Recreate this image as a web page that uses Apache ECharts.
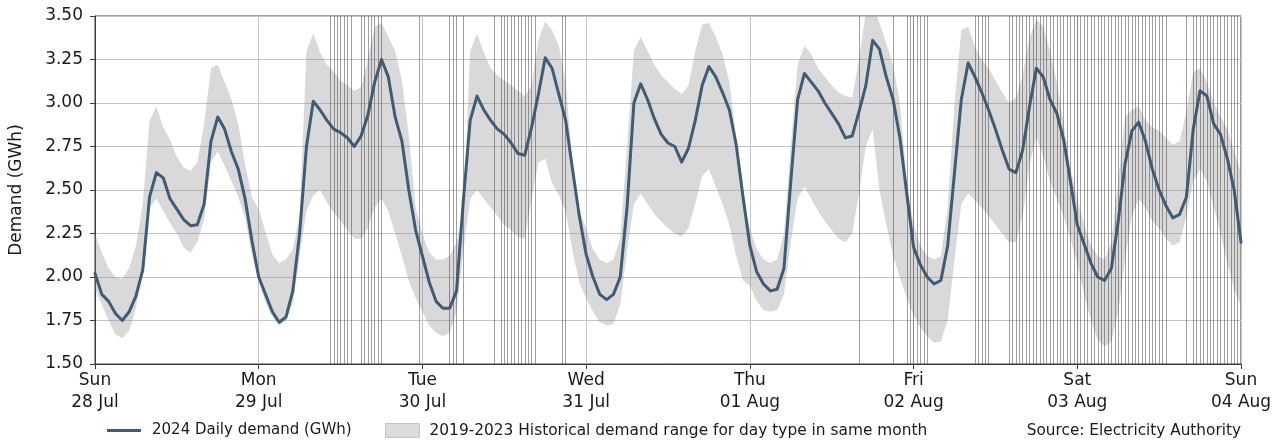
<!DOCTYPE html>
<html>
<head>
<meta charset="utf-8">
<script src="https://cdn.jsdelivr.net/npm/echarts@6/dist/echarts.min.js"></script>
<style>
  html, body { margin: 0; padding: 0; background: #ffffff; }
  #chart { width: 1288px; height: 441px; }
</style>
</head>
<body>
<div id="chart"></div>
<script>
// Week shown: Sun 28 Jul 00:00 to Sun 04 Aug 00:00, hourly readings (hour 0..168)
const dayNames = ['Sun', 'Mon', 'Tue', 'Wed', 'Thu', 'Fri', 'Sat', 'Sun'];
const dayDates = ['28 Jul', '29 Jul', '30 Jul', '31 Jul', '01 Aug', '02 Aug', '03 Aug', '04 Aug'];

// 2024 demand (GWh), one value per hour
const demand2024 = [
  2.02, 1.90, 1.86, 1.79, 1.75, 1.80, 1.89, 2.04, 2.46, 2.60, 2.57, 2.45, 2.39, 2.33, 2.295, 2.30, 2.42, 2.78, 2.92, 2.85, 2.72, 2.62, 2.45, 2.21,
  2.00, 1.90, 1.80, 1.74, 1.77, 1.92, 2.25, 2.75, 3.01, 2.96, 2.90, 2.85, 2.83, 2.80, 2.75, 2.81, 2.93, 3.12, 3.25, 3.15, 2.92, 2.78, 2.50, 2.27,
  2.12, 1.97, 1.86, 1.82, 1.82, 1.92, 2.44, 2.90, 3.04, 2.96, 2.90, 2.85, 2.82, 2.77, 2.71, 2.70, 2.86, 3.05, 3.26, 3.20, 3.05, 2.90, 2.62, 2.35,
  2.13, 2.00, 1.90, 1.87, 1.90, 2.00, 2.40, 3.00, 3.11, 3.02, 2.91, 2.82, 2.77, 2.75, 2.66, 2.74, 2.90, 3.10, 3.21, 3.15, 3.06, 2.96, 2.76, 2.46,
  2.18, 2.03, 1.96, 1.92, 1.93, 2.05, 2.55, 3.02, 3.17, 3.12, 3.07, 3.00, 2.94, 2.88, 2.80, 2.81, 2.95, 3.10, 3.36, 3.31, 3.15, 3.02, 2.80, 2.48,
  2.17, 2.07, 2.00, 1.96, 1.98, 2.18, 2.60, 3.02, 3.23, 3.15, 3.06, 2.96, 2.85, 2.73, 2.62, 2.60, 2.73, 2.98, 3.20, 3.15, 3.02, 2.94, 2.79, 2.55,
  2.30, 2.19, 2.08, 2.00, 1.98, 2.05, 2.32, 2.65, 2.84, 2.89, 2.78, 2.62, 2.50, 2.41, 2.34, 2.36, 2.46, 2.85, 3.07, 3.04, 2.88, 2.82, 2.68, 2.50,
  2.20
];

// 2019-2023 historical range for the same day type, upper and lower edge (GWh)
const histUpper = [
  2.25, 2.14, 2.05, 2.00, 1.99, 2.05, 2.18, 2.42, 2.90, 2.98, 2.86, 2.79, 2.69, 2.63, 2.61, 2.66, 2.88, 3.20, 3.22, 3.12, 3.02, 2.88, 2.65, 2.46,
  2.39, 2.26, 2.13, 2.08, 2.10, 2.16, 2.35, 3.30, 3.40, 3.29, 3.22, 3.18, 3.13, 3.10, 3.07, 3.09, 3.25, 3.44, 3.46, 3.38, 3.30, 3.13, 2.82, 2.40,
  2.25, 2.14, 2.10, 2.10, 2.12, 2.20, 2.38, 3.30, 3.40, 3.29, 3.20, 3.16, 3.13, 3.10, 3.07, 3.04, 3.10, 3.36, 3.47, 3.42, 3.33, 3.12, 2.65, 2.38,
  2.28, 2.16, 2.10, 2.08, 2.10, 2.22, 2.75, 3.30, 3.38, 3.30, 3.22, 3.16, 3.12, 3.08, 3.05, 3.10, 3.30, 3.45, 3.46, 3.38, 3.28, 3.12, 2.80, 2.45,
  2.28, 2.16, 2.10, 2.08, 2.10, 2.25, 2.75, 3.22, 3.33, 3.28, 3.20, 3.15, 3.10, 3.06, 3.04, 3.03, 3.25, 3.52, 3.56, 3.46, 3.34, 3.22, 3.00, 2.55,
  2.30, 2.18, 2.12, 2.10, 2.12, 2.40, 3.00, 3.42, 3.44, 3.32, 3.25, 3.20, 3.13, 3.06, 3.00, 3.03, 3.16, 3.38, 3.48, 3.44, 3.30, 3.12, 2.88, 2.62,
  2.45, 2.30, 2.18, 2.12, 2.10, 2.20, 2.55, 2.92, 2.96, 2.98, 2.90, 2.86, 2.84, 2.80, 2.76, 2.78, 2.95, 3.18, 3.20, 3.12, 3.00, 2.92, 2.85, 2.72,
  2.60
];
const histLower = [
  1.93, 1.84, 1.75, 1.67, 1.65, 1.69, 1.82, 2.03, 2.40, 2.45, 2.38, 2.31, 2.25, 2.17, 2.14, 2.20, 2.33, 2.66, 2.72, 2.64, 2.55, 2.46, 2.34, 2.13,
  1.98, 1.85, 1.77, 1.72, 1.75, 1.85, 2.12, 2.38, 2.47, 2.50, 2.43, 2.37, 2.32, 2.27, 2.22, 2.22, 2.28, 2.40, 2.45, 2.38, 2.25, 2.12, 1.98, 1.88,
  1.80, 1.72, 1.68, 1.66, 1.68, 1.80, 2.15, 2.45, 2.50, 2.45, 2.40, 2.35, 2.30, 2.27, 2.23, 2.22, 2.45, 2.66, 2.68, 2.54, 2.47, 2.38, 2.15, 1.97,
  1.88, 1.80, 1.74, 1.72, 1.73, 1.84, 2.15, 2.42, 2.48, 2.42, 2.36, 2.32, 2.28, 2.25, 2.23, 2.28, 2.42, 2.58, 2.62, 2.52, 2.42, 2.30, 2.12, 1.98,
  1.95, 1.86, 1.81, 1.80, 1.81, 1.90, 2.20, 2.45, 2.52, 2.45, 2.38, 2.32, 2.27, 2.22, 2.20, 2.25, 2.48, 2.75, 2.85, 2.50, 2.30, 2.12, 2.00, 1.88,
  1.78, 1.71, 1.66, 1.62, 1.63, 1.75, 2.10, 2.42, 2.48, 2.44, 2.40, 2.35, 2.30, 2.25, 2.20, 2.20, 2.35, 2.65, 2.80, 2.70, 2.55, 2.45, 2.35, 2.22,
  2.08, 1.90, 1.75, 1.64, 1.60, 1.63, 1.80, 2.10, 2.35, 2.45, 2.40, 2.32, 2.28, 2.22, 2.18, 2.20, 2.35, 2.55, 2.62, 2.55, 2.40, 2.25, 2.08, 1.93,
  1.83
];

// Marked half-hour intervals, in hours since Sun 28 Jul 00:00
const markedMon = [34.5, 35.0, 35.5, 36.0, 36.5, 37.0, 37.5, 39.0, 39.5, 40.0, 40.5, 41.0, 41.5, 42.0, 47.5];
const markedTue = [52.0, 52.5, 53.0, 54.0, 58.5, 59.5, 60.0, 60.5, 61.0, 61.5, 62.0, 62.5, 63.0, 63.5, 64.0, 64.5, 68.5, 69.0];
const markedThu = [112.0, 117.0, 119.0, 119.5];
const markedFri = [120.0, 120.5, 121.0, 121.5, 122.0, 129.0, 129.5, 130.0, 130.5, 131.0,
  134.0, 134.5, 135.0, 135.5, 136.0, 136.5, 137.0, 137.5, 138.0, 138.5, 139.0, 139.5, 140.0, 140.5,
  141.0, 141.5, 142.0, 142.5, 143.0, 143.5];
const markedSat = [144.0, 144.5, 145.0, 145.5, 146.0, 146.5, 147.0, 147.5, 148.0, 148.5, 149.0, 149.5,
  150.0, 150.5, 151.0, 151.5, 152.0, 152.5, 153.0, 153.5, 154.0, 154.5, 155.0, 155.5, 156.0, 156.5, 157.0,
  160.0, 161.0, 161.5, 162.0, 162.5, 163.0, 163.5, 164.0, 164.5, 165.0, 165.5, 166.0, 166.5, 167.0, 167.5];

const FONT = 'DejaVu Sans';
const LINE_NAME = '2024 Daily demand (GWh)';
const BAND_NAME = '2019-2023 Historical demand range for day type in same month';
const LINE_COLOR = '#3e5c76';
const BAND_FILL = 'rgba(140,140,140,0.33)';

const toPairs = arr => arr.map((v, i) => [i, v]);
const markedAll = [].concat(markedMon, markedTue, markedThu, markedFri, markedSat);

// Historical range drawn as one polygon: upper edge forward, lower edge back
function renderBand(params, api) {
  const pts = [];
  for (let i = 0; i < histUpper.length; i++) pts.push(api.coord([i, histUpper[i]]));
  for (let i = histLower.length - 1; i >= 0; i--) pts.push(api.coord([i, histLower[i]]));
  const cs = params.coordSys;
  return {
    type: 'polygon',
    shape: { points: pts },
    style: { fill: BAND_FILL, stroke: null },
    clipPath: { type: 'rect', shape: { x: cs.x, y: cs.y, width: cs.width, height: cs.height } }
  };
}

const chart = echarts.init(document.getElementById('chart'), null, { renderer: 'canvas' });

const axisColor = '#3b3b3b';
const gridColor = '#c4c4c4';
const textColor = '#1a1a1a';

chart.setOption({
  animation: false,
  textStyle: { fontFamily: FONT },
  grid: {
    left: 95, right: 47, top: 16, bottom: 77,
    show: true, borderColor: axisColor, borderWidth: 1, backgroundColor: 'transparent'
  },
  xAxis: {
    type: 'value', min: 0, max: 168, interval: 24,
    axisLine: { show: true, lineStyle: { color: axisColor, width: 1 } },
    axisTick: { show: true, length: 5, lineStyle: { color: axisColor } },
    axisLabel: {
      margin: 6, fontFamily: FONT, fontSize: 17, color: textColor, lineHeight: 22,
      showMinLabel: true, showMaxLabel: true,
      formatter: v => dayNames[Math.round(v / 24)] + '\n' + dayDates[Math.round(v / 24)]
    },
    splitLine: { show: true, lineStyle: { color: gridColor, width: 1 } }
  },
  yAxis: {
    type: 'value', min: 1.5, max: 3.5, interval: 0.25,
    name: 'Demand (GWh)', nameLocation: 'middle', nameGap: 70,
    nameTextStyle: { fontFamily: FONT, fontSize: 17, color: textColor },
    axisLine: { show: true, lineStyle: { color: axisColor, width: 1 } },
    axisTick: { show: true, length: 5, lineStyle: { color: axisColor } },
    axisLabel: { margin: 12, fontFamily: FONT, fontSize: 17, color: textColor, formatter: v => v.toFixed(2) },
    splitLine: { show: true, lineStyle: { color: gridColor, width: 1 } }
  },
  legend: [
    {
      left: 107, top: 423, padding: 0, itemWidth: 34, itemHeight: 14, selectedMode: false,
      textStyle: { fontFamily: FONT, fontSize: 15, color: textColor, padding: [0, 0, 0, 6] },
      data: [{ name: LINE_NAME, icon: 'path://M0,5.5H34V8.5H0Z', itemStyle: { color: LINE_COLOR } }]
    },
    {
      left: 385, top: 423, padding: 0, itemWidth: 34, itemHeight: 14, selectedMode: false,
      textStyle: { fontFamily: FONT, fontSize: 15.4, color: textColor, padding: [0, 0, 0, 5] },
      data: [{ name: BAND_NAME, icon: 'rect', itemStyle: { color: '#dcdcdc', borderColor: '#c4c4c4', borderWidth: 1 } }]
    }
  ],
  graphic: [{
    type: 'text', right: 47, top: 424,
    style: { text: 'Source: Electricity Authority', fontFamily: FONT, fontSize: 15.3, fill: textColor }
  }],
  series: [
    {
      name: BAND_NAME, type: 'custom', renderItem: renderBand,
      data: [[0, histLower[0]]], encode: { x: 0, y: 1 },
      itemStyle: { color: '#dcdcdc' }, z: 1, silent: true
    },
    {
      name: 'marked', type: 'line', data: [], z: 2, silent: true,
      markLine: {
        silent: true, symbol: ['none', 'none'], animation: false,
        label: { show: false },
        lineStyle: { color: 'rgba(80,80,80,0.55)', width: 1, type: 'solid' },
        emphasis: { disabled: true },
        data: markedAll.map(h => ({ xAxis: h }))
      }
    },
    {
      name: LINE_NAME, type: 'line', data: toPairs(demand2024),
      symbol: 'none', z: 3,
      lineStyle: { color: LINE_COLOR, width: 3, join: 'round', cap: 'round' },
      itemStyle: { color: LINE_COLOR }
    }
  ]
});
</script>
</body>
</html>
